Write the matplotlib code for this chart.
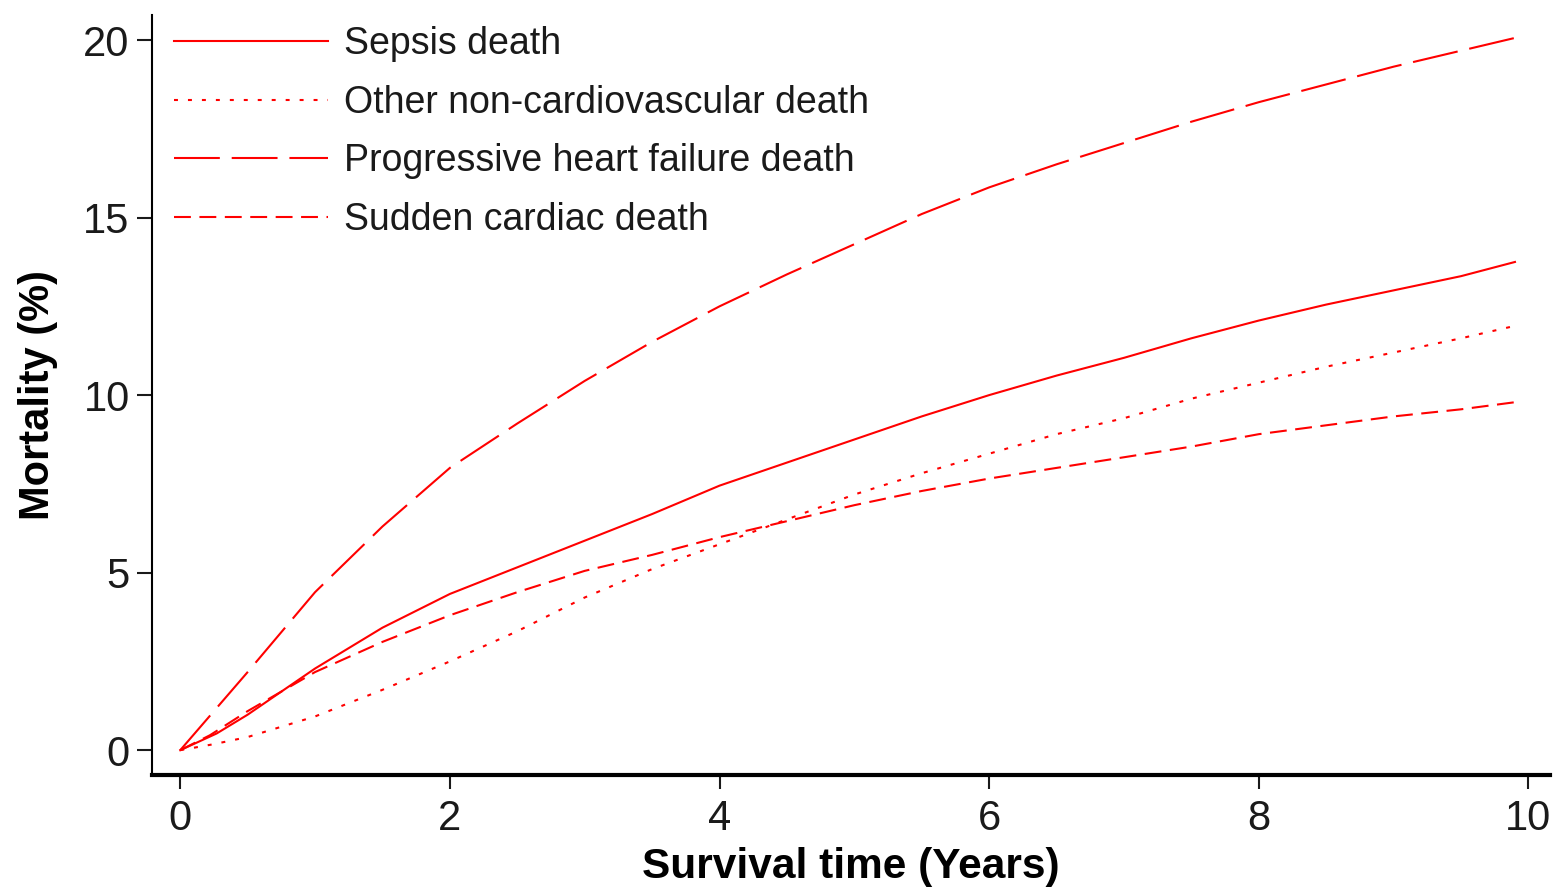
import matplotlib
matplotlib.use("Agg")
import matplotlib.pyplot as plt

plt.rcParams['font.family'] = ['Liberation Sans', 'DejaVu Sans']

# cumulative incidence (%)
t_sepsis = [0, 0.27, 0.5, 1.0, 1.5, 2.0, 2.5, 3.0, 3.5, 4.0, 4.5, 5.0, 5.5, 6.0, 6.5, 7.0, 7.5, 8.0, 8.5, 9.0, 9.5, 9.9]
y_sepsis = [0, 0.47, 1.0, 2.3, 3.45, 4.4, 5.15, 5.9, 6.65, 7.45, 8.1, 8.75, 9.4, 10.0, 10.55, 11.05, 11.6, 12.1, 12.55, 12.95, 13.35, 13.75]

t_other = [0, 0.25, 0.5, 1.0, 1.5, 2.0, 2.5, 3.0, 3.5, 4.0, 4.5, 5.0, 5.5, 6.0, 6.5, 7.0, 7.5, 8.0, 8.5, 9.0, 9.5, 9.9]
y_other = [0, 0.17, 0.37, 0.95, 1.7, 2.5, 3.35, 4.3, 5.1, 5.8, 6.5, 7.2, 7.8, 8.35, 8.9, 9.35, 9.9, 10.35, 10.8, 11.2, 11.6, 11.95]

t_hf = [0, 0.25, 0.5, 1.0, 1.5, 2.0, 2.5, 3.0, 3.5, 4.0, 4.5, 5.0, 5.5, 6.0, 6.5, 7.0, 7.5, 8.0, 8.5, 9.0, 9.5, 9.9]
y_hf = [0, 1.1, 2.2, 4.45, 6.3, 7.95, 9.2, 10.4, 11.5, 12.5, 13.4, 14.25, 15.1, 15.85, 16.5, 17.1, 17.7, 18.25, 18.75, 19.25, 19.7, 20.06]

t_scd = [0, 0.22, 0.5, 1.0, 1.5, 2.0, 2.5, 3.0, 3.5, 4.0, 4.5, 5.0, 5.5, 6.0, 6.5, 7.0, 7.5, 8.0, 8.5, 9.0, 9.5, 9.9]
y_scd = [0, 0.42, 1.1, 2.2, 3.05, 3.8, 4.45, 5.05, 5.5, 6.0, 6.45, 6.9, 7.3, 7.65, 7.95, 8.25, 8.55, 8.9, 9.15, 9.4, 9.6, 9.8]

labels = ['Sepsis death', 'Other non-cardiovascular death',
          'Progressive heart failure death', 'Sudden cardiac death']

fig = plt.figure(figsize=(15.55, 8.93), dpi=100)
ax = fig.add_axes([0.0977, 0.1321, 0.8991, 0.8509])

red = '#ff0000'
lw = 1.5
ax.plot(t_sepsis, y_sepsis, color=red, lw=lw, label=labels[0])
ax.plot(t_other, y_other, color=red, lw=lw, dashes=(1.9, 4.8), label=labels[1])
ax.plot(t_hf, y_hf, color=red, lw=lw, dashes=(22, 5.7), label=labels[2])
ax.plot(t_scd, y_scd, color=red, lw=lw, dashes=(8.1, 4.1), label=labels[3])

ax.set_xlim(-0.21, 10.16)
ax.set_ylim(-0.7, 20.7)
ax.set_xticks([0, 2, 4, 6, 8, 10])
ax.set_yticks([0, 5, 10, 15, 20])
ax.tick_params(labelsize=30, width=1.5, colors='#1a1a1a')
ax.tick_params(axis='x', length=10, pad=7)
ax.tick_params(axis='y', length=11, pad=5)
ax.spines['top'].set_visible(False)
ax.spines['right'].set_visible(False)
ax.spines['left'].set_linewidth(1.5)
ax.spines['bottom'].set_linewidth(3)

ax.set_xlabel('Survival time (Years)', fontsize=30.5, fontweight='bold', labelpad=6)
ax.set_ylabel('Mortality (%)', fontsize=30, fontweight='bold', labelpad=18)

leg = ax.legend(loc='upper left', frameon=False, fontsize=27, handlelength=4.1,
                handletextpad=0.42, labelspacing=0.6, borderaxespad=0.2,
                bbox_to_anchor=(0.0, 1.015))
for t in leg.get_texts():
    t.set_color('#1a1a1a')

fig.savefig('out.png', dpi=100, facecolor='white')
